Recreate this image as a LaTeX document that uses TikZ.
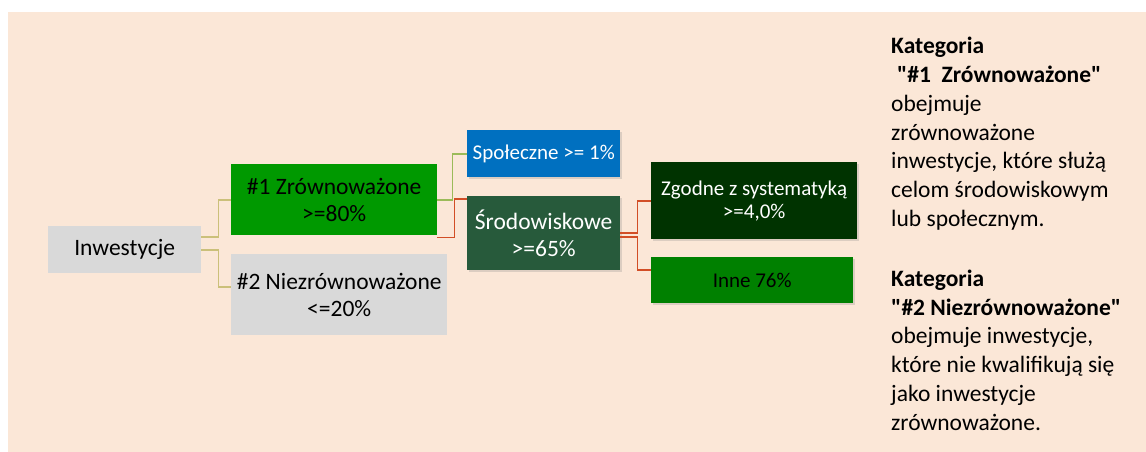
\documentclass[tikz,border=0pt]{standalone}
\usepackage{fontspec}
\setmainfont{Carlito}[Ligatures=TeXOff]
\usetikzlibrary{positioning}
\usetikzlibrary{shadows}

\definecolor{bgpeach}{HTML}{FBE7D7}
\definecolor{boxgray}{HTML}{D9D9D9}
\definecolor{sustgreen}{HTML}{009900}
\definecolor{socblue}{HTML}{0070C0}
\definecolor{envgreen}{HTML}{275A3B}
\definecolor{taxgreen}{HTML}{003300}
\definecolor{othgreen}{HTML}{008000}
\definecolor{lineolive}{HTML}{CBC07A}
\definecolor{linegreen}{HTML}{9BBB59}
\definecolor{linered}{HTML}{D24E26}

\begin{document}
\begin{tikzpicture}[x=1pt, y=-1pt]

% Styles
\tikzstyle{box} =
	[anchor=north west, inner sep=0pt, align=center]

\tikzstyle{big box} =
	[box, font=\fontsize{23.5}{27}\selectfont]

\tikzstyle{small box} =
	[box, font=\fontsize{21}{23}\selectfont,
	 drop shadow={shadow xshift=2pt, shadow yshift=-2pt, opacity=0.25}]

\tikzstyle{branch} =
	[line width=1.8pt]

\useasboundingbox (0,0) rectangle (1146,452);
\fill[bgpeach] (8,12) rectangle (1146,452);

% Tree
\node (Inv) at (48,226)
	[big box, fill=boxgray, minimum width=153pt, minimum height=47pt]
	{Inwestycje};

\node (Sust) at (231,164)
	[big box, fill=sustgreen, minimum width=206pt, minimum height=71pt]
	{\#1 Zrównoważone\\>=80\%};
\node (NonSust) at (231,254)
	[big box, fill=boxgray, minimum width=216pt, minimum height=81pt]
	{\#2 Niezrównoważone\\<=20\%};

\node (Social) at (467,130)
	[small box, fill=socblue, text=white, minimum width=153pt, minimum height=47pt]
	{Społeczne >= 1\%};
\node (Env) at (467,196)
	[big box, fill=envgreen, text=white, minimum width=153pt, minimum height=74pt,
	 drop shadow={shadow xshift=2pt, shadow yshift=-2pt, opacity=0.25}]
	{Środowiskowe\\>=65\%};

\node (Taxo) at (651,162)
	[small box, fill=taxgreen, text=white, minimum width=206pt, minimum height=77pt]
	{Zgodne z systematyką\\>=4,0\%};
\node (Other) at (651,257)
	[small box, fill=othgreen, minimum width=202pt, minimum height=46pt]
	{Inne 76\%};

% Edges
\draw[branch, lineolive]
	([yshift=12.5pt]Inv.east) -- ++(17pt,0) |- (Sust.west);
\draw[branch, lineolive]
	(Inv.east) -- ++(17pt,0) |- ([yshift=7.5pt]NonSust.west);
\draw[branch, linegreen]
	(Sust.east) -- ++(15pt,0) |- (Social.west);
\draw[branch, linered]
	([yshift=-2pt]Sust.south east) -- ++(17pt,0) |- ([yshift=34pt]Env.west);
\draw[branch, linered]
	(Env.east) -- ++(17pt,0) |- (Taxo.west);
\draw[branch, linered]
	([yshift=-4pt]Env.east) -- ++(17pt,0) |- ([yshift=10pt]Other.west);

% Legend
\node (Legend) at (891,37)
	[anchor=north west, inner sep=0pt, align=left,
	 font=\fontsize{23.5}{28.8}\selectfont]
	{\textbf{Kategoria}\\
	 \hspace*{0.25em}\textbf{"\#1\ \ Zrównoważone"}\\
	 obejmuje\\
	 zrównoważone\\
	 inwestycje, które służą\\
	 celom środowiskowym\\
	 lub społecznym.\\[31pt]
	 \textbf{Kategoria}\\
	 \textbf{"\#2 Niezrównoważone"}\\
	 obejmuje inwestycje,\\
	 które nie kwalifikują się\\
	 jako inwestycje\\
	 zrównoważone.};

\end{tikzpicture}
\end{document}
